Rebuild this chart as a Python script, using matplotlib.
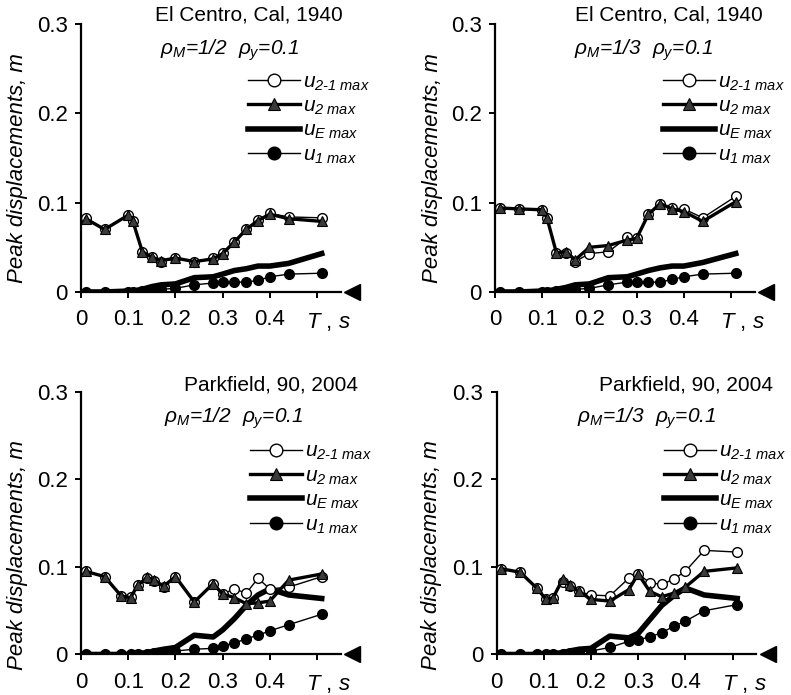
import matplotlib
matplotlib.use('Agg')
import matplotlib.pyplot as plt

plt.rcParams['font.family'] = ['Liberation Sans', 'DejaVu Sans']
plt.rcParams['mathtext.fontset'] = 'custom'
plt.rcParams['mathtext.rm'] = 'Liberation Sans:italic'
plt.rcParams['mathtext.it'] = 'Liberation Sans:italic'
plt.rcParams['mathtext.bf'] = 'Liberation Sans:bold:italic'

# periods, s
T_top = [0.01, 0.05, 0.10, 0.11, 0.13, 0.15, 0.17, 0.20, 0.24, 0.28, 0.30,
         0.325, 0.35, 0.375, 0.40, 0.44, 0.51]
T_bot = [0.01, 0.05, 0.085, 0.105, 0.12, 0.14, 0.155, 0.175, 0.20, 0.24, 0.28,
         0.30, 0.325, 0.35, 0.375, 0.40, 0.44, 0.51]

# El Centro, rho_M = 1/2
u21_tl = [0.083, 0.070, 0.086, 0.080, 0.045, 0.039, 0.034, 0.038, 0.034, 0.038,
          0.044, 0.056, 0.070, 0.081, 0.088, 0.084, 0.083]
u2_tl = [0.082, 0.070, 0.086, 0.079, 0.045, 0.039, 0.035, 0.038, 0.034, 0.037,
         0.043, 0.056, 0.070, 0.080, 0.087, 0.082, 0.079]
uE_tl = [0, 0, 0.001, 0.001, 0.003, 0.006, 0.008, 0.009, 0.016, 0.017, 0.020,
         0.024, 0.026, 0.029, 0.029, 0.032, 0.043]
u1_tl = [0, 0, 0, 0.0005, 0.001, 0.002, 0.003, 0.004, 0.008, 0.010, 0.011,
         0.011, 0.011, 0.013, 0.017, 0.020, 0.021]

# El Centro, rho_M = 1/3
u21_tr = [0.094, 0.093, 0.092, 0.083, 0.044, 0.044, 0.034, 0.043, 0.045, 0.061,
          0.060, 0.087, 0.099, 0.094, 0.093, 0.083, 0.107]
u2_tr = [0.094, 0.093, 0.092, 0.083, 0.044, 0.045, 0.036, 0.050, 0.052, 0.058,
         0.060, 0.087, 0.099, 0.093, 0.090, 0.079, 0.101]
uE_tr = [0, 0, 0.001, 0.001, 0.003, 0.005, 0.008, 0.009, 0.016, 0.017, 0.020,
         0.024, 0.027, 0.029, 0.029, 0.033, 0.043]
u1_tr = [0, 0, 0, 0.0005, 0.001, 0.002, 0.003, 0.004, 0.008, 0.011, 0.011,
         0.011, 0.011, 0.014, 0.017, 0.020, 0.021]

# Parkfield, rho_M = 1/2
u21_bl = [0.095, 0.089, 0.067, 0.066, 0.079, 0.087, 0.084, 0.077, 0.089, 0.060,
          0.081, 0.069, 0.075, 0.070, 0.087, 0.075, 0.077, 0.089]
u2_bl = [0.095, 0.089, 0.067, 0.065, 0.079, 0.088, 0.085, 0.078, 0.089, 0.060,
         0.081, 0.069, 0.065, 0.058, 0.059, 0.061, 0.085, 0.092]
uE_bl = [0, 0, 0, 0, 0.001, 0.002, 0.004, 0.006, 0.008, 0.022, 0.020, 0.028,
         0.041, 0.056, 0.068, 0.075, 0.068, 0.064]
u1_bl = [0, 0, 0, 0.0005, 0.001, 0.001, 0.002, 0.003, 0.004, 0.006, 0.007,
         0.010, 0.013, 0.018, 0.022, 0.027, 0.034, 0.046]

# Parkfield, rho_M = 1/3
u21_br = [0.098, 0.094, 0.076, 0.063, 0.065, 0.083, 0.078, 0.072, 0.068, 0.067,
          0.087, 0.092, 0.082, 0.080, 0.086, 0.095, 0.119, 0.117]
u2_br = [0.098, 0.094, 0.076, 0.063, 0.065, 0.086, 0.079, 0.072, 0.063, 0.061,
         0.074, 0.092, 0.072, 0.066, 0.070, 0.077, 0.095, 0.099]
uE_br = [0, 0, 0, 0, 0.001, 0.002, 0.004, 0.006, 0.007, 0.021, 0.019, 0.024,
         0.040, 0.056, 0.067, 0.076, 0.068, 0.064]
u1_br = [0, 0, 0, 0.0005, 0.001, 0.001, 0.002, 0.003, 0.004, 0.008, 0.015,
         0.017, 0.020, 0.025, 0.032, 0.038, 0.050, 0.057]

labels = [r'$u_{2\text{-}1\ max}$', r'$u_{2\ max}$', r'$u_{E\ max}$', r'$u_{1\ max}$']
xticks = [0, 0.1, 0.2, 0.3, 0.4, 0.5]
xticklabels = ['0', '0.1', '0.2', '0.3', '0.4', '']
yticks = [0, 0.1, 0.2, 0.3]
yticklabels = ['0', '0.1', '0.2', '0.3']

FS = 15
TICK_FS = 16

fig = plt.figure(figsize=(7.91, 6.95), dpi=100)


def panel(rect, T, u21, u2, uE, u1, quake, rho, title_x, title_y, rho_x, rho_y,
          leg_x, leg_y, ylab_x, ylab_y):
    ax = fig.add_axes(rect)
    ax.plot(T, u21, '-o', color='black', lw=1, ms=7, mfc='white', mec='black',
            mew=1, zorder=3, label=labels[0])
    ax.plot(T, u2, '-^', color='black', lw=2.4, ms=7, mfc='#3a3a3a', mec='black',
            mew=0.8, zorder=4, label=labels[1])
    ax.plot(T, uE, '-', color='black', lw=4, zorder=2, label=labels[2])
    ax.plot(T, u1, '-o', color='black', lw=1, ms=7, mfc='black', mec='black',
            zorder=5, label=labels[3])
    # left-pointing marker at the end of the axis
    ax.plot([0.575], [0], marker='<', ms=12, color='black', clip_on=False)

    ax.set_xlim(0, 0.55)
    ax.set_ylim(0, 0.3)
    ax.set_xticks(xticks)
    ax.set_xticklabels(xticklabels)
    ax.set_yticks(yticks)
    ax.set_yticklabels(yticklabels)
    for s in ['top', 'right']:
        ax.spines[s].set_visible(False)
    for s in ['left', 'bottom']:
        ax.spines[s].set_linewidth(1.6)
    ax.tick_params(axis='both', direction='out', length=4.5, width=1.4,
                   labelsize=TICK_FS)
    ax.tick_params(axis='x', pad=8)
    ax.tick_params(axis='y', pad=5)
    ax.text(0.525, -0.112, r'$T$ , $s$', transform=ax.get_xaxis_transform(),
            ha='center', va='center', fontsize=TICK_FS)
    ax.set_ylabel('Peak displacements, m', fontsize=16, style='italic')
    ax.yaxis.set_label_coords(ylab_x, ylab_y)

    ax.text(title_x, title_y, quake, transform=ax.transAxes, ha='right',
            va='center', fontsize=FS)
    ax.text(rho_x, rho_y, rho, transform=ax.transAxes, ha='center',
            va='center', fontsize=FS, style='italic')

    ax.legend(loc='upper left', bbox_to_anchor=(leg_x, leg_y), frameon=False,
              fontsize=FS, handlelength=2.5, handletextpad=0.15,
              labelspacing=0.2, borderpad=0, borderaxespad=0,
              markerscale=1.3, numpoints=1)
    return ax


panel([0.1024, 0.5799, 0.3282, 0.3856], T_top, u21_tl, u2_tl, uE_tl, u1_tl,
      'El Centro, Cal, 1940', r'$\rho_M$=1/2  $\rho_y$=0.1',
      1.01, 1.034, 0.574, 0.903, 0.643, 0.82, -0.205, 0.463)
panel([0.6258, 0.5799, 0.3282, 0.3856], T_top, u21_tr, u2_tr, uE_tr, u1_tr,
      'El Centro, Cal, 1940', r'$\rho_M$=1/3  $\rho_y$=0.1',
      1.032, 1.034, 0.572, 0.903, 0.647, 0.82, -0.2, 0.463)
panel([0.1024, 0.0583, 0.3282, 0.3777], T_bot, u21_bl, u2_bl, uE_bl, u1_bl,
      'Parkfield, 90, 2004', r'$\rho_M$=1/2  $\rho_y$=0.1',
      1.067, 1.027, 0.587, 0.90, 0.651, 0.81, -0.204, 0.379)
panel([0.6277, 0.0583, 0.3282, 0.3777], T_bot, u21_br, u2_br, uE_br, u1_br,
      'Parkfield, 90, 2004', r'$\rho_M$=1/3  $\rho_y$=0.1',
      1.065, 1.027, 0.578, 0.90, 0.645, 0.81, -0.209, 0.379)

fig.savefig('out.png', dpi=100)
